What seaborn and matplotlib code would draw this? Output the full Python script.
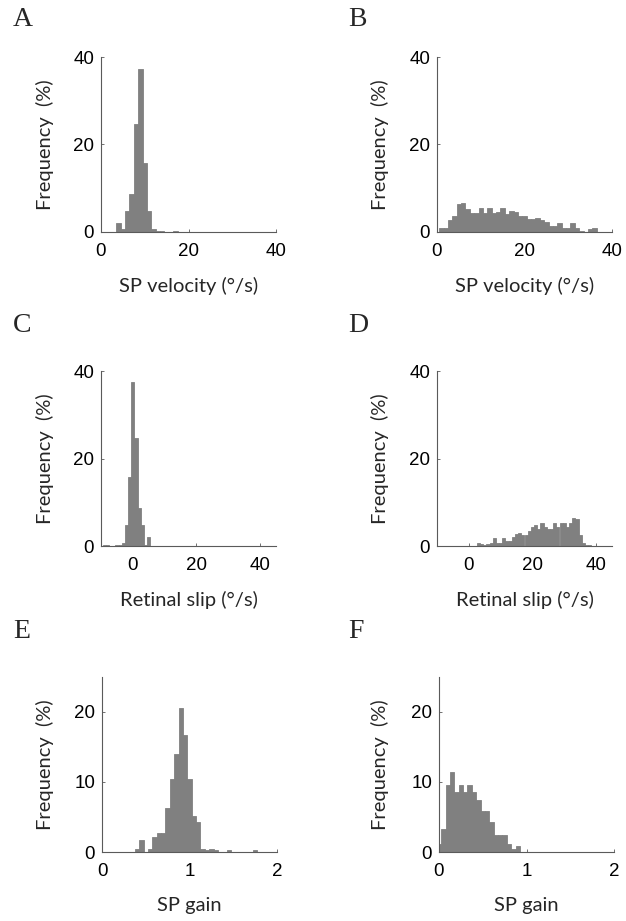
import matplotlib
matplotlib.use("Agg")
import matplotlib.pyplot as plt
import seaborn as sns
import numpy as np

# ---- data (bin centres and percent frequency) ----
A_centers = [4, 5, 6, 7, 8, 9, 10, 11, 12, 13, 14, 17]
A_pct = [2.1, 0.7, 4.7, 8.7, 24.7, 37.3, 15.7, 4.7, 0.7, 0.3, 0.3, 0.3]

B_centers = list(range(1, 37))
B_pct = [0.9, 0.9, 2.8, 3.6, 6.3, 6.7, 5.3, 4.4, 4.4, 5.4, 4.4, 5.4, 4.4, 4.6, 5.4, 4.2,
         4.9, 4.5, 3.6, 3.7, 2.9, 2.9, 3.2, 2.8, 2.3, 1.4, 1.4, 2.0, 0.9, 0.9, 2.0, 0.9,
         0.3, 0.0, 0.6, 0.9]

C_centers = [-9, -8, -5, -4, -3, -2, -1, 0, 1, 2, 3, 4, 5]
C_pct = [0.3, 0.3, 0.2, 0.2, 0.8, 4.7, 15.7, 37.4, 24.6, 8.6, 4.7, 0.15, 2.1]

D_centers = list(range(3, 39))
D_pct = [0.8, 0.4, 0.2, 0.4, 0.8, 1.8, 0.8, 0.8, 1.8, 1.1, 1.1, 2.1, 2.7, 3.0, 2.6, 2.6,
         3.4, 4.3, 4.7, 4.0, 5.2, 4.3, 4.0, 4.0, 5.2, 4.3, 5.2, 5.2, 4.3, 5.2, 6.5, 6.2,
         2.5, 0.6, 0.2, 0.2]

E_centers = [0.40, 0.45, 0.55, 0.60, 0.65, 0.70, 0.75, 0.80, 0.85, 0.90, 0.95, 1.00,
             1.05, 1.10, 1.15, 1.20, 1.25, 1.30, 1.45, 1.75]
E_pct = [0.5, 1.7, 0.5, 2.1, 2.7, 2.7, 6.3, 10.4, 14.0, 20.6, 16.7, 10.5, 5.2, 4.3,
         0.5, 0.25, 0.5, 0.25, 0.25, 0.25]

F_centers = [0.00, 0.05, 0.10, 0.15, 0.20, 0.25, 0.30, 0.35, 0.40, 0.45, 0.50, 0.55,
             0.60, 0.65, 0.70, 0.75, 0.80, 0.85, 0.90]
F_pct = [1.2, 3.3, 9.6, 11.5, 8.6, 9.6, 8.6, 9.6, 8.6, 7.4, 5.8, 5.8, 4.3, 2.5, 2.5,
         2.5, 1.1, 0.4, 0.8]

vel_ticks = [0, 20, 40]
gain_ticks = [0, 1, 2]
freq_ticks_40 = [0, 20, 40]
freq_ticks_25 = [0, 10, 20]

sns.set_style("ticks")
plt.rcParams["font.family"] = ["Liberation Sans", "DejaVu Sans"]

fig = plt.figure(figsize=(6.26, 9.21), dpi=100)
W, H = 626.0, 921.0

def make_ax(left, top, width=175, height=175):
    return fig.add_axes([left / W, 1 - (top + height) / H, width / W, height / H])

panels = [
    ("A", A_centers, A_pct, "int", (0, 40), vel_ticks, (0, 40), freq_ticks_40, "SP velocity (°/s)", 101, 57, (13, 20)),
    ("B", B_centers, B_pct, "int", (0, 40), vel_ticks, (0, 40), freq_ticks_40, "SP velocity (°/s)", 437, 57, (348, 20)),
    ("C", C_centers, C_pct, "int", (-10, 45), vel_ticks, (0, 40), freq_ticks_40, "Retinal slip (°/s)", 101, 371, (13, 325)),
    ("D", D_centers, D_pct, "int", (-10, 45), vel_ticks, (0, 40), freq_ticks_40, "Retinal slip (°/s)", 437, 371, (348, 325)),
    ("E", E_centers, E_pct, "gain", (0, 2), gain_ticks, (0, 25), freq_ticks_25, "SP gain", 102, 677, (13, 632)),
    ("F", F_centers, F_pct, "gain", (0, 2), gain_ticks, (0, 25), freq_ticks_25, "SP gain", 439, 677, (348, 632)),
]

bar_color = "#808080"
spine_color = "#5a5a5a"

for (letter, cen, pct, mode, xlim, xticks, ylim, yticks, xlabel, left, top, lpos) in panels:
    ax = make_ax(left, top)
    if mode == "int":
        sns.histplot(x=cen, weights=pct, discrete=True, ax=ax, color=bar_color,
                     alpha=1, edgecolor=bar_color, linewidth=0.6)
    else:
        sns.histplot(x=cen, weights=pct, binwidth=0.05,
                     binrange=(min(cen) - 0.025, max(cen) + 0.025), ax=ax,
                     color=bar_color, alpha=1, edgecolor=bar_color, linewidth=0.6)
    ax.set_xlim(*xlim)
    ax.set_ylim(*ylim)
    ax.set_xticks(xticks)
    ax.set_yticks(yticks)
    ax.tick_params(direction="in", length=2, width=0.6, color=spine_color,
                   labelsize=13.5, colors="black")
    ax.tick_params(axis="x", pad=8)
    ax.tick_params(axis="y", pad=5)
    for s in ["top", "right"]:
        ax.spines[s].set_visible(False)
    for s in ["left", "bottom"]:
        ax.spines[s].set_color(spine_color)
        ax.spines[s].set_linewidth(0.8)
    ax.set_xlabel(xlabel, fontsize=14.5, family=["Lato", "DejaVu Sans"], labelpad=12)
    ax.set_ylabel("Frequency  (%)", fontsize=14.5, family=["Lato", "DejaVu Sans"], labelpad=4)
    ax.yaxis.set_label_coords((lpos[0] + 41 - left) / 175.0, 0.5)
    fig.text(lpos[0] / W, 1 - lpos[1] / H, letter, fontsize=20,
             family=["Liberation Serif", "DejaVu Serif"], ha="left", va="center")

fig.savefig("out.png", dpi=100)
